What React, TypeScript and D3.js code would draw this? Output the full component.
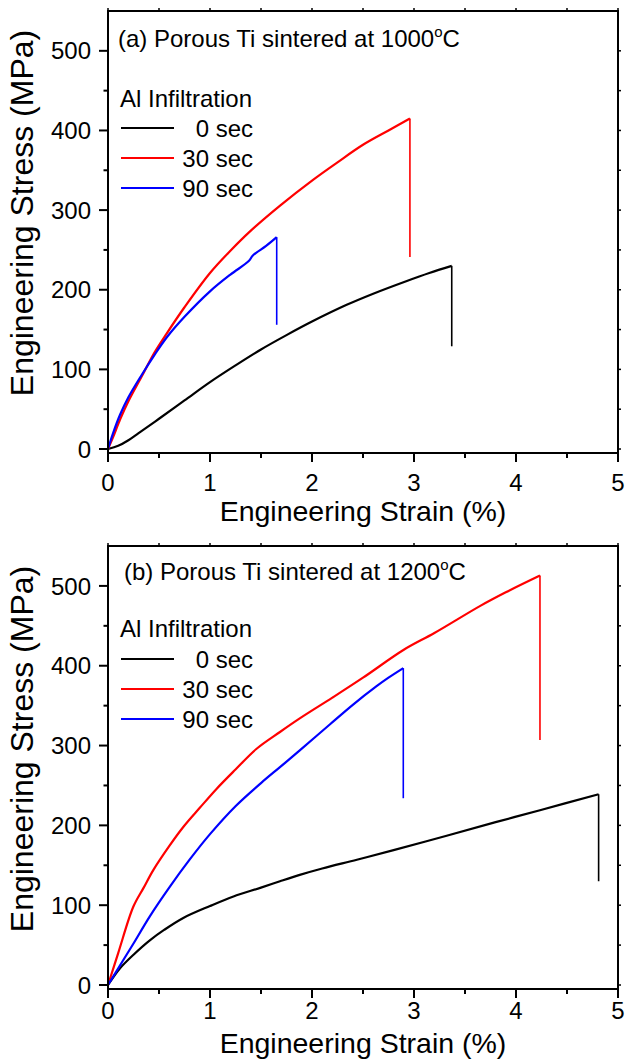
import React from "react";
import * as d3 from "d3";

// ---------- data ----------
const seriesNames = ["0 sec", "30 sec", "90 sec"];
const seriesColors = ["#000000", "#ff0000", "#0000ff"];
const panelTitles = ["(a) Porous Ti sintered at 1000", "(b) Porous Ti sintered at 1200"];
const xTicks = [0, 1, 2, 3, 4, 5];
const yTicks = [0, 100, 200, 300, 400, 500];

// Panel (a) strain (%), stress (MPa)
const a0: [number, number][] = [[0,0],[0.1,4],[0.2,11],[0.3,20],[0.5,38],[0.75,61],[1.0,84],[1.25,105],[1.5,125],[1.75,143],[2.0,160],[2.34,181],[2.6,195],[2.93,211],[3.15,221],[3.37,230]];
const a30: [number, number][] = [[0,0],[0.05,15],[0.118,37],[0.2,60],[0.33,91],[0.45,120],[0.575,145],[0.75,178],[1.0,221],[1.2,249],[1.39,273],[1.69,306],[2.01,338],[2.25,360],[2.5,382],[2.75,400],[2.96,415]];
const a90: [number, number][] = [[0,0],[0.05,20],[0.118,43],[0.2,65],[0.33,93],[0.45,117],[0.575,140],[0.75,166],[1.0,198],[1.2,219],[1.38,236],[1.42,243],[1.55,255],[1.654,266]];
const aFail = [129, 241, 156];

// Panel (b)
const b0: [number, number][] = [[0,0],[0.118,21],[0.25,38],[0.41,56],[0.55,69],[0.738,84],[1.0,99],[1.23,111],[1.5,122],[1.686,130],[1.88,138],[2.1,146],[2.44,157],[2.8,169],[3.32,187],[3.8,204],[4.235,219],[4.81,239]];
const b30: [number, number][] = [[0,0],[0.1,40],[0.248,98],[0.35,122],[0.444,144],[0.6,174],[0.738,198],[0.9,222],[1.066,246],[1.25,270],[1.457,296],[1.686,317],[1.88,334],[2.2,360],[2.5,385],[2.9,420],[3.2,441],[3.65,475],[3.9,492],[4.235,513]];
const b90: [number, number][] = [[0,0],[0.12,25],[0.25,52],[0.41,86],[0.6,122],[0.8,157],[1.0,189],[1.25,224],[1.5,253],[1.686,273],[1.88,294],[2.18,327],[2.4,351],[2.63,374],[2.75,385],[2.895,397]];
const bFail = [130, 307, 234];

const panelData = [[a0, a30, a90], [b0, b30, b90]];
const panelFail = [aFail, bFail];

// ---------- layout ----------
const W = 625, H = 1064;
const LEFT = 108, RIGHT = 618;
const FONT = "Arial, 'Liberation Sans', Helvetica, sans-serif";
const layouts = [
  { top: 11, bottom: 453, titleX: 118, titleY: 47, legTitleY: 107, legY0: 128, tickLabelY: 491, xTitleY: 521, yTitleC: 213 },
  { top: 546, bottom: 989, titleX: 124, titleY: 580, legTitleY: 637, legY0: 659, tickLabelY: 1019, xTitleY: 1053, yTitleC: 749 },
];

function Panel({ idx }: { idx: number }) {
  const L = layouts[idx];
  const x = d3.scaleLinear().domain([0, 5]).range([LEFT, RIGHT]);
  const y = d3.scaleLinear().domain([-5, 550]).range([L.bottom, L.top]);
  const line = d3.line<[number, number]>().x(d => x(d[0])).y(d => y(d[1])).curve(d3.curveCatmullRom.alpha(0.5));
  const xMinor = d3.range(0, 5.01, 0.5);
  const yMinor = d3.range(0, 551, 50);
  const series = panelData[idx];
  const fails = panelFail[idx];
  const rowH = 30;
  return (
    <g>
      {series.map((s, i) => {
        const last = s[s.length - 1];
        return (
          <g key={i}>
            <path d={line(s) || ""} fill="none" stroke={seriesColors[i]} strokeWidth={2.2} strokeLinejoin="round" />
            <line x1={x(last[0])} x2={x(last[0])} y1={y(last[1])} y2={y(fails[i])} stroke={seriesColors[i]} strokeWidth={1.6} />
          </g>
        );
      })}
      <rect x={LEFT} y={L.top} width={RIGHT - LEFT} height={L.bottom - L.top} fill="none" stroke="#000" strokeWidth={2} />
      {xMinor.map((v, i) => {
        const major = Math.abs(v - Math.round(v)) < 1e-6;
        return (
          <g key={"xt" + i}>
            <line x1={x(v)} x2={x(v)} y1={L.bottom} y2={L.bottom + (major ? 9 : 5)} stroke="#000" strokeWidth={2} />
            <line x1={x(v)} x2={x(v)} y1={L.top} y2={L.top - 3} stroke="#000" strokeWidth={1.5} />
          </g>
        );
      })}
      {xTicks.map(v => (
        <text key={"xl" + v} x={x(v)} y={L.tickLabelY} textAnchor="middle" fontSize={24} fontFamily={FONT}>{v}</text>
      ))}
      {yMinor.map((v, i) => {
        const major = v % 100 === 0;
        if (v > 540) return null;
        return (
          <g key={"yt" + i}>
            <line x1={LEFT} x2={LEFT - (major ? 9 : 4.5)} y1={y(v)} y2={y(v)} stroke="#000" strokeWidth={2} />
            <line x1={RIGHT} x2={RIGHT + 3} y1={y(v)} y2={y(v)} stroke="#000" strokeWidth={1.5} />
          </g>
        );
      })}
      {yTicks.map(v => (
        <text key={"yl" + v} x={91} y={y(v)} dy="0.36em" textAnchor="end" fontSize={24} fontFamily={FONT}>{v}</text>
      ))}
      <text x={(LEFT + RIGHT) / 2} y={L.xTitleY} textAnchor="middle" fontSize={28.5} fontFamily={FONT}>Engineering Strain (%)</text>
      <text transform={`translate(33,${L.yTitleC}) rotate(-90)`} textAnchor="middle" fontSize={32} fontFamily={FONT}>Engineering Stress (MPa)</text>
      <text x={L.titleX} y={L.titleY} fontSize={24} fontFamily={FONT}>
        {panelTitles[idx]}
        <tspan fontSize={15} dy={-10}>o</tspan>
        <tspan dy={10}>C</tspan>
      </text>
      <text x={120} y={L.legTitleY} fontSize={24} fontFamily={FONT}>Al Infiltration</text>
      {seriesNames.map((n, i) => (
        <g key={"lg" + i}>
          <line x1={121} x2={174} y1={L.legY0 + i * rowH} y2={L.legY0 + i * rowH} stroke={seriesColors[i]} strokeWidth={2} />
          <text x={253} y={L.legY0 + i * rowH + 8.5} textAnchor="end" fontSize={24} fontFamily={FONT}>{n}</text>
        </g>
      ))}
    </g>
  );
}

export default function App() {
  return (
    <svg width={W} height={H} style={{ position: "absolute", left: 0, top: 0, background: "#fff" }}>
      <rect width={W} height={H} fill="#fff" />
      <Panel idx={0} />
      <Panel idx={1} />
    </svg>
  );
}
